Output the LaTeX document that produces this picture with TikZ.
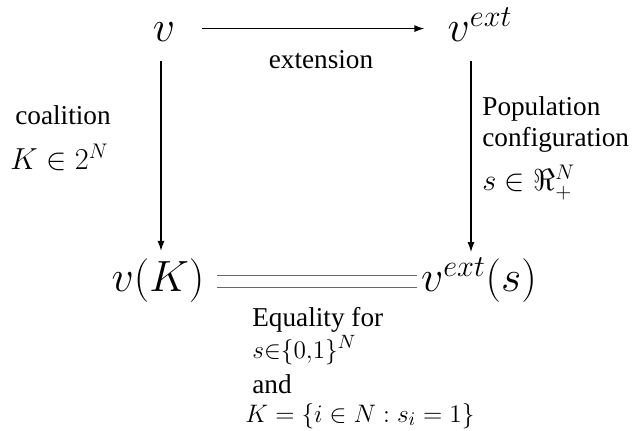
\documentclass[tikz,border=0pt]{standalone}
\usepackage{amsmath,amssymb}
\usepackage{fontspec}
\setmainfont{Liberation Serif}
\usepackage{tikz}
\usetikzlibrary{arrows.meta,positioning,calc}

\begin{document}
\begin{tikzpicture}[x=0.02cm,y=-0.02cm,
  big/.style={inner sep=0pt,anchor=base,font=\fontsize{24}{29}\selectfont},
  mid/.style={inner sep=0pt,anchor=base west,font=\fontsize{18}{22}\selectfont},
  txt/.style={inner sep=0pt,anchor=base west,font=\fontsize{15.5}{18}\selectfont},
  low/.style={inner sep=0pt,anchor=base west,font=\fontsize{15.5}{18}\selectfont},
  arr/.style={-{Latex[length=2mm,width=1.4mm]},line width=0.7pt},
  eqline/.style={draw=black!60,line width=0.6pt,shorten <=0.25cm,shorten >=0.08cm}]
  \useasboundingbox (0,0) rectangle (634,431);
  % the four corners
  \node[big] (v) at (164,42) {$v$};
  \node[big] (vext) at (480,42) {$v^{ext}$};
  \node[big] (vK) at (158,292) {$v(K)$};
  \node[big] (vexts) at (479,292) {$v^{ext}(s)$};
  % arrows between them
  \draw[arr,shorten <=0.54cm,shorten >=0.46cm] ([yshift=0.08cm]v.east) -- ([yshift=0.08cm]v.east -| vext.west);
  \draw[arr,shorten <=0.38cm,shorten >=0.16cm] ([xshift=-0.06cm]v.south) -- ([xshift=-0.06cm]v.south |- vK.north);
  \draw[arr,shorten <=0.38cm,shorten >=0.1cm] ([xshift=-0.18cm]vext.south) -- ([xshift=-0.18cm]vext.south |- vexts.north);
  % equality
  \draw[eqline] ([yshift=0.12cm]vK.east) -- ([yshift=0.12cm]vK.east -| vexts.west);
  \draw[eqline] ([yshift=-0.12cm]vK.east) -- ([yshift=-0.12cm]vK.east -| vexts.west);
  % labels
  \node[txt,anchor=base] (extlbl) at (321,69) {extension};
  \node[txt] (coal) at (15,125) {coalition};
  \node[mid] (coalK) at (10,170) {$K\in 2^N$};
  \node[txt] (pop) at (482,116) {Population};
  \node[txt] (conf) at (482,147) {configuration};
  \node[mid] (popS) at (482,191) {$s\in\Re^N_+$};
  \node[txt] (eq) at (252,327) {Equality for};
  \node[low] (eqS) at (252,358) {$s{\in}\{0{,}1\}^N$};
  \node[txt] (and) at (252,393) {and};
  \node[low] (eqK) at (245,422) {$K=\{i\in N:s_i=1\}$};
\end{tikzpicture}
\end{document}
